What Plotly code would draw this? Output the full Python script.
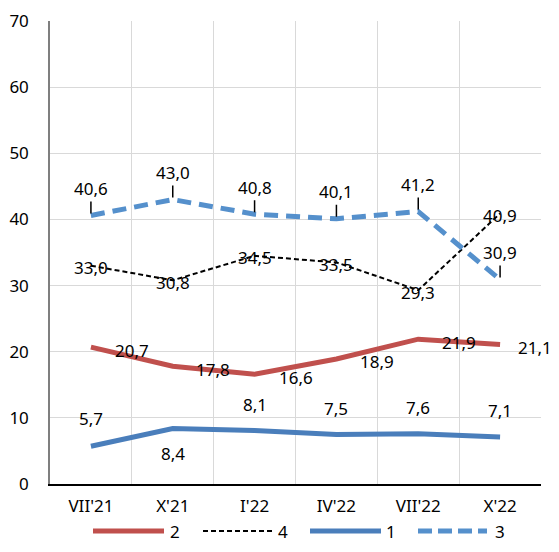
import plotly.graph_objects as go

cats = ["VII'21", "X'21", "I'22", "IV'22", "VII'22", "X'22"]
s2 = [20.7, 17.8, 16.6, 18.9, 21.9, 21.1]
s4 = [33.0, 30.8, 34.5, 33.5, 29.3, 40.9]
s1 = [5.7, 8.4, 8.1, 7.5, 7.6, 7.1]
s3 = [40.6, 43.0, 40.8, 40.1, 41.2, 30.9]
y_ticks = [0, 10, 20, 30, 40, 50, 60, 70]

RED = "#C0504D"
BLUE = "#4A7EBB"
BLUE2 = "#5590CC"
FONT = "Noto Sans"
FS = 17

def fmt(v):
    return f"{v:.1f}".replace(".", ",")

fig = go.Figure()
fig.add_trace(go.Scatter(x=cats, y=s2, mode="lines", name="2",
                         line=dict(color=RED, width=5)))
fig.add_trace(go.Scatter(x=cats, y=s4, mode="lines", name="4",
                         line=dict(color="black", width=2, dash="5px,3px")))
fig.add_trace(go.Scatter(x=cats, y=s1, mode="lines", name="1",
                         line=dict(color=BLUE, width=5)))
fig.add_trace(go.Scatter(x=cats, y=s3, mode="lines", name="3",
                         line=dict(color=BLUE2, width=5, dash="14px,8px")))

ann = []
tf = dict(family=FONT, size=FS, color="black")
s2_xshift = [41, 40, 41, 41, 41, 35]
for c, v, xs in zip(cats, s2, s2_xshift):
    ann.append(dict(x=c, y=v, text=fmt(v), showarrow=False, xshift=xs, yshift=-3, font=tf))
for c, v in zip(cats, s4):
    ann.append(dict(x=c, y=v, text=fmt(v), showarrow=False, yshift=-2, font=tf))
s1_shift = [28, -25, 26, 26, 26, 27]
for c, v, sh in zip(cats, s1, s1_shift):
    ann.append(dict(x=c, y=v, text=fmt(v), showarrow=False, yshift=sh, font=tf))
for c, v in zip(cats, s3):
    ann.append(dict(x=c, y=v, text=fmt(v), showarrow=True, ax=0, ay=-27,
                    arrowhead=0, arrowwidth=1.5, arrowcolor="black", standoff=2, font=tf))

# page has an 8px body margin on every side: figure sized to fit without scrollbars
OFF = 8
W, H = 559 - 2 * OFF, 552 - 2 * OFF
PL, PR, PT, PB = 50, 541, 21, 484  # plot box in page pixels
L, T = PL - OFF, PT - OFF
R, B = W - (PR - OFF), H - (PB - OFF)

shapes = []
leg = [("2", RED, 5, "solid", 93, 164, 175),
       ("4", "black", 2, "5px,3px", 203, 272, 283),
       ("1", BLUE, 5, "solid", 310, 381, 391),
       ("3", BLUE2, 5, "14px,6px", 418, 487, 500)]
ly = 531
yp = (PB - ly) / (PB - PT)
for name, col, w, dash, x0, x1, tx in leg:
    shapes.append(dict(type="line", xref="paper", yref="paper",
                       x0=(x0 - PL) / (PR - PL), x1=(x1 - PL) / (PR - PL),
                       y0=yp, y1=yp, line=dict(color=col, width=w, dash=dash)))
    ann.append(dict(xref="paper", yref="paper", x=(tx - PL) / (PR - PL),
                    y=yp, text=name, showarrow=False,
                    xanchor="center", yanchor="middle", font=tf))

fig.update_layout(
    width=W, height=H,
    margin=dict(l=L, r=R, t=T, b=B, autoexpand=False),
    plot_bgcolor="white", paper_bgcolor="white",
    showlegend=False,
    font=dict(family=FONT, size=FS, color="black"),
    annotations=ann, shapes=shapes,
    xaxis=dict(type="category", range=[-0.5, 5.5], tickson="boundaries",
               showgrid=True, gridcolor="#D9D9D9", gridwidth=1,
               showline=True, linecolor="black", linewidth=1.5,
               ticks="", ticklabelstandoff=6, tickfont=dict(size=FS),
               automargin=False),
    yaxis=dict(range=[0, 70], tickvals=y_ticks, showgrid=True,
               gridcolor="#D9D9D9", gridwidth=1, zeroline=False,
               showline=True, linecolor="#7F7F7F", linewidth=1.5,
               ticks="", ticklabelstandoff=16, tickfont=dict(size=FS),
               automargin=False),
)
fig.write_html("out.html")
